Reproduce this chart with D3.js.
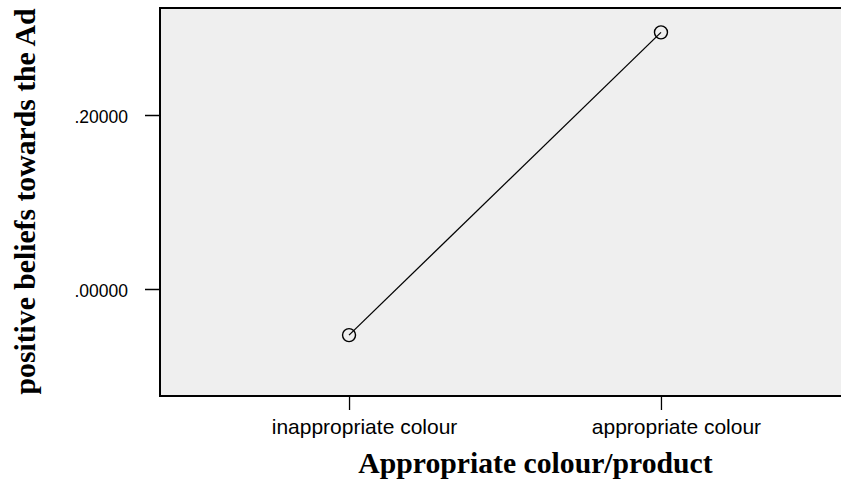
<!DOCTYPE html>
<html>
<head>
<meta charset="utf-8">
<script src="https://cdn.jsdelivr.net/npm/d3@7/dist/d3.min.js"></script>
<style>
  html, body { margin: 0; padding: 0; background: #fff; }
  svg { display: block; }
</style>
</head>
<body>
<svg id="chart" width="841" height="482"></svg>
<script>
const categories = ["inappropriate colour", "appropriate colour"];
const values = [-0.053, 0.295];
const yTicks = [0.0, 0.2];
const yTickLabels = [".00000", ".20000"];
const xTitle = "Appropriate colour/product";
const yTitle = "positive beliefs towards the Ad";

const svg = d3.select("#chart");
const plot = { left: 160, right: 850, top: 8, bottom: 396 };

const x = d3.scalePoint().domain(categories).range([plot.left, plot.right]).padding(0.606);
const y = d3.scaleLinear().domain([-0.123, 0.323]).range([plot.bottom, plot.top]);

// plot background
svg.append("rect")
  .attr("x", plot.left).attr("y", plot.top)
  .attr("width", plot.right - plot.left).attr("height", plot.bottom - plot.top)
  .attr("fill", "#efefef");

// frame (left, top, bottom)
svg.append("path")
  .attr("d", `M${plot.right},${plot.top}H${plot.left}V${plot.bottom}H${plot.right}`)
  .attr("fill", "none").attr("stroke", "#000").attr("stroke-width", 2);

// y axis
const yAxis = d3.axisLeft(y).tickValues(yTicks)
  .tickFormat((d, i) => yTickLabels[i]).tickSize(15).tickPadding(17);
const gy = svg.append("g").attr("transform", `translate(${plot.left},0)`).call(yAxis);
gy.select(".domain").remove();
gy.selectAll(".tick line").attr("stroke", "#000").attr("stroke-width", 1.5);
gy.selectAll(".tick text")
  .attr("font-family", "'Liberation Sans', Arial, sans-serif")
  .attr("font-size", 17.5).attr("fill", "#000").attr("dy", "0.45em");

// x axis
const xAxis = d3.axisBottom(x).tickSize(14).tickPadding(9);
const gx = svg.append("g").attr("transform", `translate(0,${plot.bottom})`).call(xAxis);
gx.select(".domain").remove();
gx.selectAll(".tick line").attr("stroke", "#000").attr("stroke-width", 1.3);
gx.selectAll(".tick text")
  .attr("font-family", "'Liberation Sans', Arial, sans-serif")
  .attr("font-size", 21).attr("fill", "#000").attr("dx", 15);

// line
const line = d3.line().x((d, i) => x(categories[i])).y(d => y(d));
svg.append("path").datum(values)
  .attr("d", line).attr("fill", "none").attr("stroke", "#000").attr("stroke-width", 1.3);

// markers
svg.selectAll("circle.pt").data(values).join("circle")
  .attr("class", "pt")
  .attr("cx", (d, i) => x(categories[i])).attr("cy", d => y(d))
  .attr("r", 6.5).attr("fill", "none").attr("stroke", "#000").attr("stroke-width", 1.4);

// axis titles
svg.append("text")
  .attr("x", 535.5).attr("y", 473)
  .attr("text-anchor", "middle")
  .attr("font-family", "'Liberation Serif', 'Times New Roman', serif")
  .attr("font-weight", "bold").attr("font-size", 29.7)
  .text(xTitle);

svg.append("text")
  .attr("transform", "translate(35,201.5) rotate(-90)")
  .attr("text-anchor", "middle")
  .attr("font-family", "'Liberation Serif', 'Times New Roman', serif")
  .attr("font-weight", "bold").attr("font-size", 29.7)
  .text(yTitle);
</script>
</body>
</html>
